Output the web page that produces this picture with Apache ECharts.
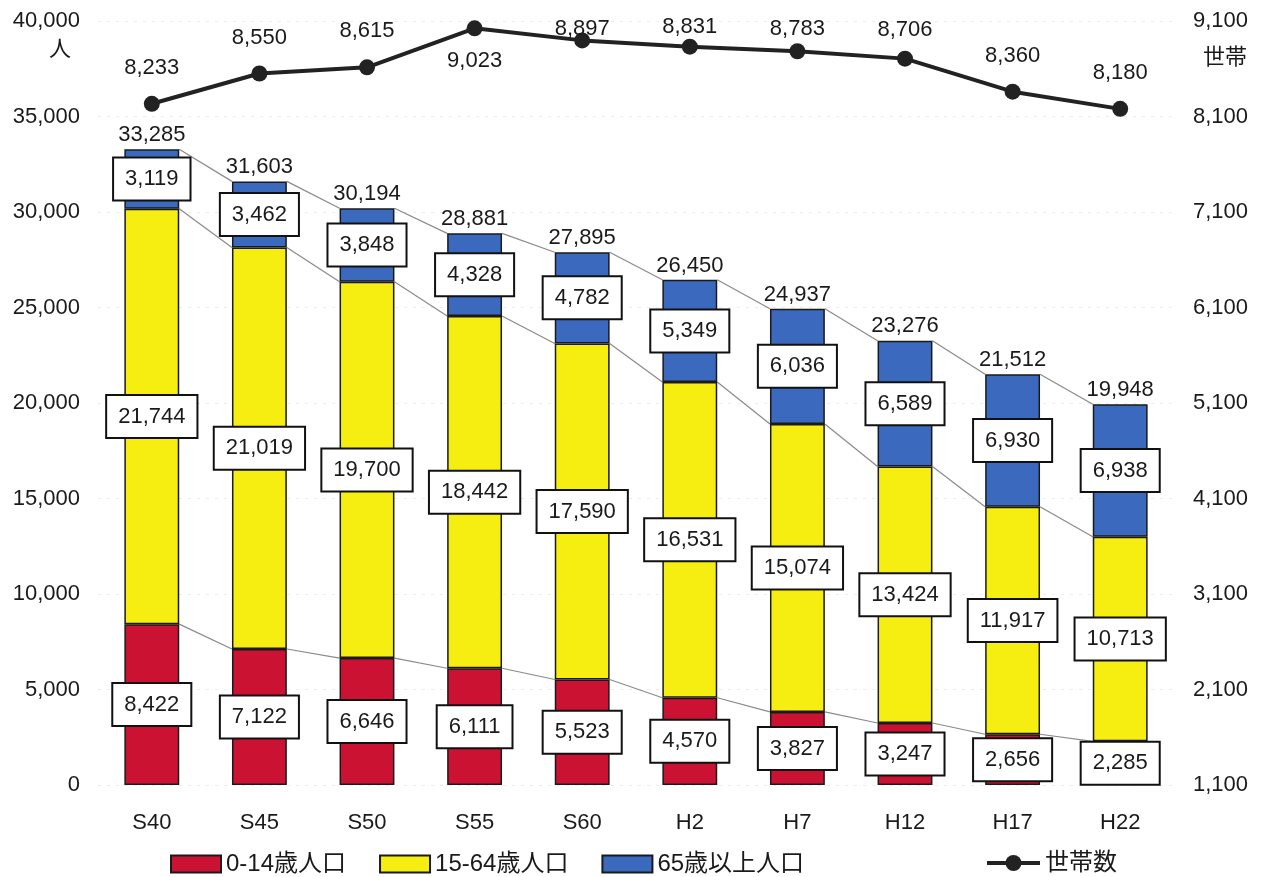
<!DOCTYPE html>
<html>
<head>
<meta charset="utf-8">
<script src="https://cdn.jsdelivr.net/npm/echarts@6/dist/echarts.min.js"></script>
<style>
html,body{margin:0;padding:0;background:#fff;}
#chart{width:1263px;height:877px;}
</style>
</head>
<body>
<div id="chart"></div>
<script>
const categories = ['S40','S45','S50','S55','S60','H2','H7','H12','H17','H22'];
const age0to14 = [8422,7122,6646,6111,5523,4570,3827,3247,2656,2285];
const age15to64 = [21744,21019,19700,18442,17590,16531,15074,13424,11917,10713];
const age65plus = [3119,3462,3848,4328,4782,5349,6036,6589,6930,6938];
const totals = [33285,31603,30194,28881,27895,26450,24937,23276,21512,19948];
const households = [8233,8550,8615,9023,8897,8831,8783,8706,8360,8180];
const leftTicks = {min:0, max:40000, interval:5000};
const rightTicks = {min:1100, max:9100, interval:1000};

const FONT = "'Liberation Sans','Noto Sans CJK JP',sans-serif";
const TXT = '#1a1a1a';
const fmt = v => String(v).replace(/\B(?=(\d{3})+(?!\d))/g, ',');
const BAR_W = 0.51;

const cumRed = age0to14.slice();
const cumYel = age0to14.map((v,i)=>v+age15to64[i]);
const cumAll = cumYel.map((v,i)=>v+age65plus[i]);

// label distance per point (style only)
const hhLabelStyle = {
  S55:{position:'bottom', distance:14},
  S60:{position:'top', distance:-8},
  H2:{position:'top', distance:1},
  H7:{position:'top', distance:3},
  H12:{position:'top', distance:10}
};

const boxLabel = {
  show:true, position:'inside', color:TXT, fontSize:22, fontFamily:FONT,
  backgroundColor:'#fff', borderColor:'#111', borderWidth:2, padding:[10,11,9,11],
  formatter: p => fmt(p.value)
};

function connector(name, cum){
  return {
    type:'custom', name:name, silent:true, z:1,
    data: cum.map((v,i)=>[i,v]),
    encode:{x:0,y:1},
    renderItem:(params, api)=>{
      const i = params.dataIndex;
      if (i >= cum.length-1) return null;
      const p1 = api.coord([i, cum[i]]);
      const p2 = api.coord([i+1, cum[i+1]]);
      const bw = api.size([1,0])[0]*BAR_W;
      return {type:'line', shape:{x1:p1[0]+bw/2, y1:p1[1], x2:p2[0]-bw/2, y2:p2[1]},
        style:{stroke:'#8a8a8a', lineWidth:1.2}};
    }
  };
}

const barItem = c => ({color:c, borderColor:'#1a1a1a', borderWidth:1.5});

const option = {
  backgroundColor:'#fff',
  animation:false,
  textStyle:{fontFamily:FONT},
  grid:{left:98, right:89, top:21, bottom:92},
  legend:[
    {data:['0-14歳人口','15-64歳人口','65歳以上人口'], left:165, top:847,
     icon:'rect', itemWidth:50, itemHeight:17, itemGap:33,
     itemStyle:{borderColor:'#1a1a1a', borderWidth:2},
     textStyle:{fontSize:24, color:TXT, fontFamily:FONT}},
    {data:['世帯数'], left:980, top:846, itemWidth:53, itemHeight:20,
     lineStyle:{width:4, color:'#222'},
     textStyle:{fontSize:24, color:TXT, fontFamily:FONT}}
  ],
  xAxis:{
    type:'category', data:categories,
    axisLine:{show:false}, axisTick:{show:false},
    axisLabel:{fontSize:22, color:TXT, margin:27, fontFamily:FONT}
  },
  yAxis:[
    {type:'value', min:leftTicks.min, max:leftTicks.max, interval:leftTicks.interval,
     name:'人', nameLocation:'end', nameGap:-40,
     nameTextStyle:{fontSize:22, color:TXT, align:'right', padding:[0,27,0,0], fontFamily:FONT},
     axisLine:{show:false}, axisTick:{show:false},
     axisLabel:{fontSize:22, color:TXT, margin:18, formatter:fmt, fontFamily:FONT},
     splitLine:{show:true, lineStyle:{color:'#ececec', type:[3,6], width:1}}},
    {type:'value', min:rightTicks.min, max:rightTicks.max, interval:rightTicks.interval,
     name:'世帯', nameLocation:'end', nameGap:-48,
     nameTextStyle:{fontSize:22, color:TXT, align:'left', padding:[0,0,0,29], fontFamily:FONT},
     axisLine:{show:false}, axisTick:{show:false},
     axisLabel:{fontSize:22, color:TXT, margin:19, formatter:fmt, fontFamily:FONT},
     splitLine:{show:false}}
  ],
  series:[
    connector('c1', cumRed),
    connector('c2', cumYel),
    connector('c3', cumAll),
    {type:'bar', name:'0-14歳人口', stack:'pop', data:age0to14, barWidth:(BAR_W*100)+'%',
     itemStyle:barItem('#cc1232'), label:boxLabel, z:2},
    {type:'bar', name:'15-64歳人口', stack:'pop', data:age15to64,
     itemStyle:barItem('#f6ee10'), label:boxLabel, z:2},
    {type:'bar', name:'65歳以上人口', stack:'pop', data:age65plus,
     itemStyle:barItem('#3b69be'), label:boxLabel, z:2},
    {type:'scatter', name:'total', data:totals, symbolSize:0, silent:true,
     itemStyle:{opacity:1},
     label:{show:true, position:'top', distance:3, color:TXT, fontSize:22, fontFamily:FONT,
            opacity:1, formatter:p=>fmt(p.value)}, z:3},
    {type:'line', name:'世帯数', yAxisIndex:1,
     data: households.map((v,i)=>{
       const s = hhLabelStyle[categories[i]];
       return s ? {value:v, label:{position:s.position, distance:s.distance}} : v;
     }),
     symbol:'circle', symbolSize:16,
     lineStyle:{color:'#222', width:4}, itemStyle:{color:'#222'},
     label:{show:true, position:'top', distance:17, color:TXT, fontSize:22, fontFamily:FONT,
            formatter:p=>fmt(p.value)}, z:5}
  ]
};

const chart = echarts.init(document.getElementById('chart'), null, {renderer:'canvas'});
chart.setOption(option);
</script>
</body>
</html>
